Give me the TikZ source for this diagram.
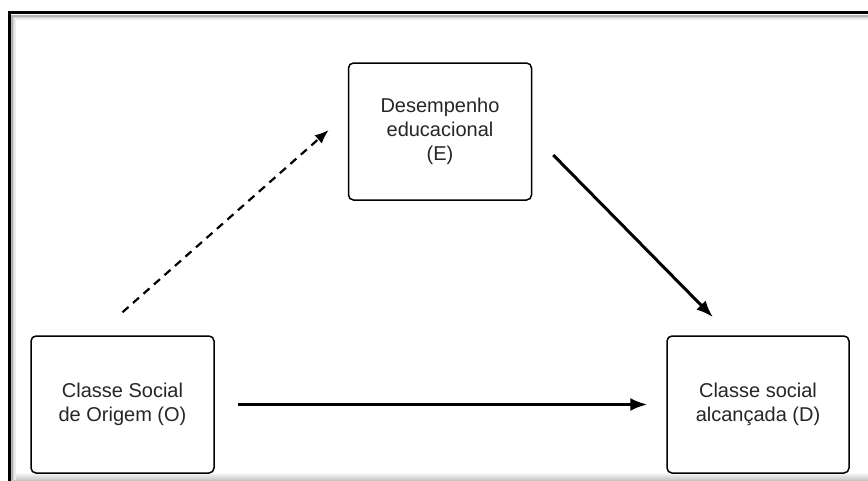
\documentclass[tikz,border=0pt]{standalone}
\usepackage{fontspec}
\setmainfont{Liberation Sans}
\usetikzlibrary{arrows.meta}
\tikzset{
  boxnode/.style={draw=black, line width=1.5pt, rounded corners=5pt, fill=white,
    minimum width=183pt, minimum height=137pt, align=center, inner sep=0pt,
    font=\fontsize{20}{24}\selectfont, text=black!85},
  solidarrow/.style={line width=3pt, -{Latex[length=17pt,width=13pt]}},
  dasharrow/.style={line width=2.2pt, dash pattern=on 8pt off 6pt, -{Latex[length=14pt,width=11pt]}},
  framestyle/.style={line width=3pt, black}
}
\begin{document}
\begin{tikzpicture}[x=1pt, y=-1pt]
\useasboundingbox (0,0) rectangle (868,480);
\fill[white] (0,0) rectangle (868,480);
% frame shadow
\shade[top color=white, bottom color=gray!45] (9,472) rectangle (868,480);
\draw[gray!60, line width=1.5pt] (12,480) -- (12,16) -- (868,16);
\draw[gray!35, line width=1.5pt] (13.5,480) -- (13.5,17.5) -- (868,17.5);
\draw[gray!15, line width=1.5pt] (15,480) -- (15,19) -- (868,19);
% frame
\draw[framestyle] (9,481) -- (9,12.5) -- (869,12.5);
% nodes
\node[boxnode] (O) at (122.5,404.5) {Classe Social\\de Origem (O)};
\node[boxnode] (E) at (440,131.5) {Desempenho\\educacional\\(E)};
\node[boxnode, minimum width=182pt] (D) at (758,404.5) {Classe social\\alcançada (D)};
% connectors
\draw[dasharrow] ([yshift=23pt]O.north) -- ([xshift=-19pt,yshift=1.5pt]E.west);
\draw[solidarrow] ([xshift=21pt,yshift=-23.5pt]E.east) -- ([xshift=-45pt,yshift=18pt]D.north);
\draw[solidarrow, line width=2.6pt] ([xshift=23pt]O.east) -- ([xshift=-19pt]D.west);
\end{tikzpicture}
\end{document}
